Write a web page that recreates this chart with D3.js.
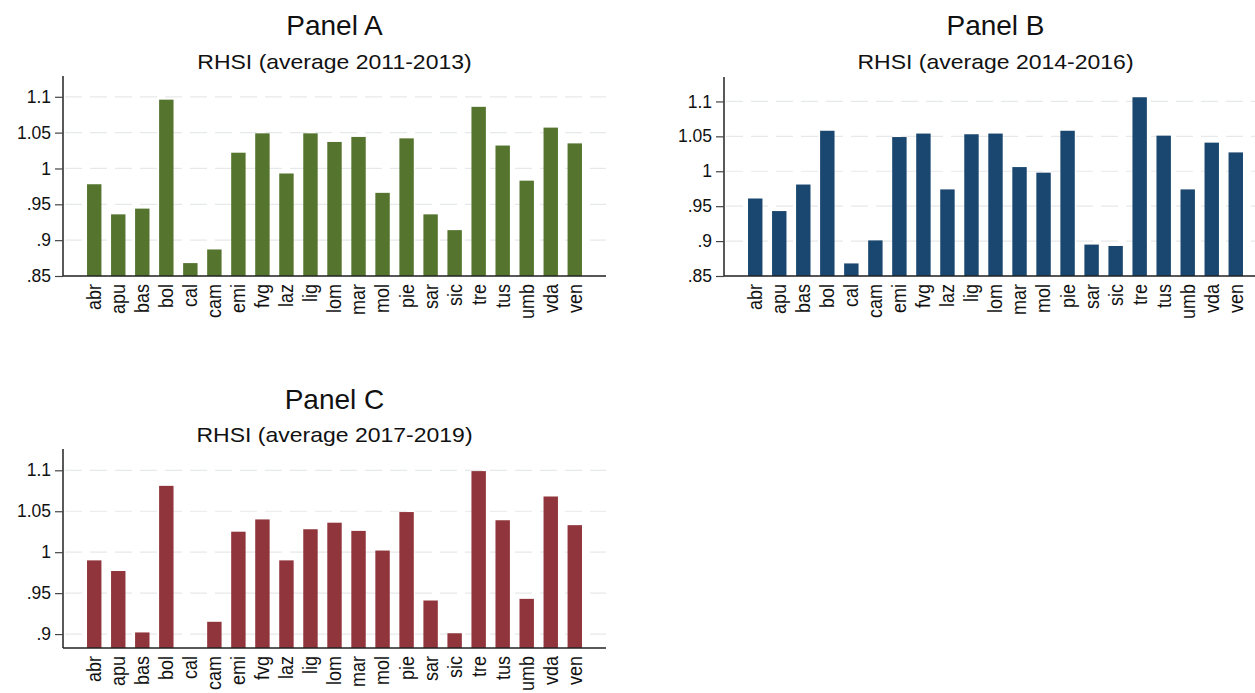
<!DOCTYPE html>
<html>
<head>
<meta charset="utf-8">
<script src="https://cdnjs.cloudflare.com/ajax/libs/d3/7.8.5/d3.min.js"></script>
<style>
  body { margin: 0; background: #fff; }
  svg text { font-family: "Liberation Sans", Arial, sans-serif; fill: #111; }
</style>
</head>
<body>
<svg id="chart" width="1255" height="693"></svg>
<script>
// regions (x categories)
var regions = ["abr","apu","bas","bol","cal","cam","emi","fvg","laz","lig","lom",
               "mar","mol","pie","sar","sic","tre","tus","umb","vda","ven"];

// RHSI averages
var rhsi_2011_2013 = [0.978,0.936,0.944,1.096,0.868,0.887,1.022,1.049,0.993,1.049,1.037,
                      1.044,0.966,1.042,0.936,0.914,1.086,1.032,0.983,1.057,1.035];
var rhsi_2014_2016 = [0.961,0.943,0.981,1.058,0.868,0.901,1.049,1.054,0.974,1.053,1.054,
                      1.006,0.998,1.058,0.895,0.893,1.106,1.051,0.974,1.041,1.027];
// cal is below the axis floor in panel C (no bar shown)
var rhsi_2017_2019 = [0.990,0.977,0.902,1.081,null,0.915,1.025,1.040,0.990,1.028,1.036,
                      1.026,1.002,1.049,0.941,0.901,1.099,1.039,0.943,1.068,1.033];

var ticksAB = [0.85, 0.9, 0.95, 1, 1.05, 1.1];
var ticksC  = [0.9, 0.95, 1, 1.05, 1.1];

var panels = [
  {title: "Panel A", sub: "RHSI (average 2011-2013)", vals: rhsi_2011_2013, color: "#55752f",
   x0: 63, x1: 606, yb: 276, yt: 76, dom: [0.85, 1.129], ticks: ticksAB, ty: 35, sy: 69},
  {title: "Panel B", sub: "RHSI (average 2014-2016)", vals: rhsi_2014_2016, color: "#1a476f",
   x0: 724, x1: 1267, yb: 276, yt: 77, dom: [0.85, 1.135], ticks: ticksAB, ty: 35, sy: 69},
  {title: "Panel C", sub: "RHSI (average 2017-2019)", vals: rhsi_2017_2019, color: "#90353b",
   x0: 63, x1: 606, yb: 648, yt: 449, dom: [0.883, 1.126], ticks: ticksC, ty: 409, sy: 442}
];

var svg = d3.select("#chart");
var fmt = function(d){ return d3.format("")(d).replace(/^0\./, "."); };

panels.forEach(function(p){
  var x = d3.scaleBand().domain(regions).range([p.x0, p.x1])
            .paddingInner(0.4).paddingOuter(1.0);
  var y = d3.scaleLinear().domain(p.dom).range([p.yb, p.yt]);
  var g = svg.append("g");

  // dashed gridlines
  g.selectAll(".grid").data(p.ticks).enter().append("line")
    .attr("x1", p.x0 + 2).attr("x2", p.x1)
    .attr("y1", function(d){ return y(d); }).attr("y2", function(d){ return y(d); })
    .attr("stroke", "#e6e9ea").attr("stroke-width", 1.2)
    .attr("stroke-dasharray", "17,8");

  // bars
  var rows = regions.map(function(r, i){ return {r: r, v: p.vals[i]}; })
                    .filter(function(d){ return d.v != null; });
  g.selectAll(".bar").data(rows).enter().append("rect")
    .attr("x", function(d){ return x(d.r); })
    .attr("width", x.bandwidth())
    .attr("y", function(d){ return y(d.v); })
    .attr("height", function(d){ return p.yb - y(d.v); })
    .attr("fill", p.color);

  // y axis
  var ya = g.append("g").attr("transform", "translate(" + p.x0 + ",0)")
    .call(d3.axisLeft(y).tickValues(p.ticks).tickFormat(fmt).tickSize(8).tickPadding(4));
  ya.select(".domain").attr("d", "M0," + p.yt + "V" + p.yb).attr("stroke", "#222").attr("stroke-width", 1.5);
  ya.selectAll(".tick line").attr("stroke", "#444").attr("stroke-width", 1.2);
  ya.selectAll(".tick text").style("font-size", "17.5px").attr("fill", "#111");

  // x axis
  var xa = g.append("g").attr("transform", "translate(0," + p.yb + ")")
    .call(d3.axisBottom(x).tickSize(0));
  xa.select(".domain").attr("d", "M" + p.x0 + ",0H" + p.x1).attr("stroke", "#222").attr("stroke-width", 1.5);
  xa.selectAll(".tick text")
    .style("font-size", "18px").attr("fill", "#111")
    .attr("text-anchor", "end")
    .attr("transform", "scale(1.1,1) rotate(-90)")
    .attr("x", -8).attr("y", 0).attr("dy", "0.35em");

  var cx = (p.x0 + Math.min(p.x1, p.x0 + 543)) / 2;
  g.append("text").attr("transform", "translate(" + cx + "," + p.ty + ")")
    .attr("text-anchor", "middle")
    .style("font-size", "28px").text(p.title);
  g.append("text").attr("transform", "translate(" + cx + "," + p.sy + ") scale(1.15,1)")
    .attr("text-anchor", "middle")
    .style("font-size", "20px").text(p.sub);
});
</script>
</body>
</html>
